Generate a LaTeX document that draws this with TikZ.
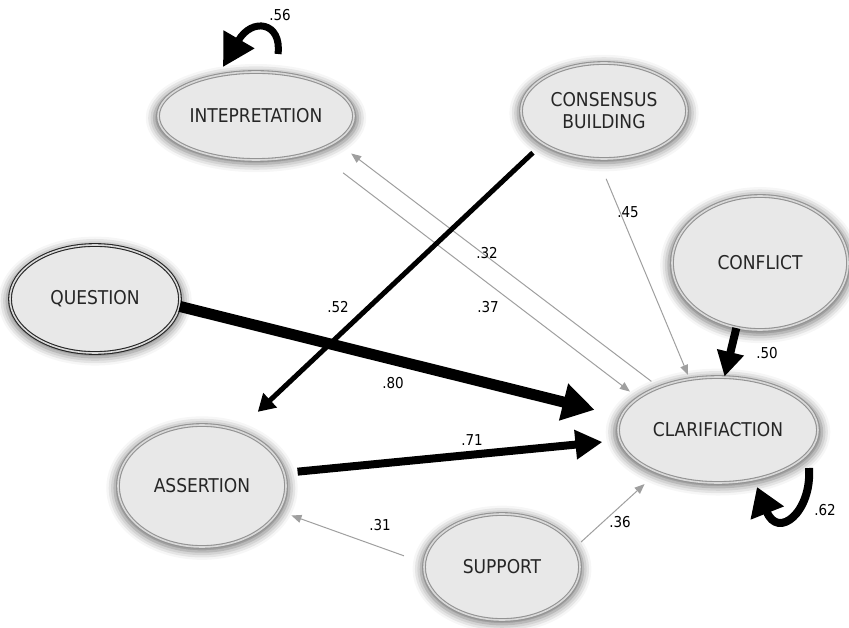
\documentclass[tikz,border=0pt]{standalone}
\usepackage{fontspec}
\setmainfont{DejaVu Sans Condensed}
\usetikzlibrary{shapes.geometric,arrows.meta,shadows.blur,calc}
\begin{document}
\begin{tikzpicture}[x=1pt,y=-1pt,
  var/.style={ellipse, draw=gray!85, line width=1.1pt, double=gray!30, double distance=1.6pt,
    fill=gray!18, inner sep=0pt, align=center, text=black!85,
    font=\fontsize{19}{22}\selectfont,
    blur shadow={shadow xshift=0pt, shadow yshift=-2pt, shadow blur radius=8pt, shadow opacity=55, shadow scale=1.04}},
  lab/.style={font=\fontsize{15}{17}\selectfont, inner sep=0pt},
  gr/.style={draw=gray!75, line width=1pt, -{Triangle[length=10pt,width=8pt]}},
  blk/.style={draw=black}
]
\useasboundingbox (0,0) rectangle (849,628);

% variables
\node[var, minimum width=196pt, minimum height=88pt] (I) at (256,116) {INTEPRETATION};
\node[var, minimum width=166pt, minimum height=96pt] (CB) at (604,111) {CONSENSUS\\BUILDING};
\node[var, draw=black!85, minimum width=170pt, minimum height=108pt] (Q) at (95,299) {QUESTION};
\node[var, minimum width=176pt, minimum height=134pt] (CF) at (760,263) {CONFLICT};
\node[var, minimum width=200pt, minimum height=106pt] (CL) at (718,430) {CLARIFIACTION};
\node[var, minimum width=168pt, minimum height=122pt] (A) at (202,486) {ASSERTION};
\node[var, minimum width=156pt, minimum height=106pt] (S) at (502,567) {SUPPORT};

% thin gray paths
\draw[gr, shorten <=21pt, shorten >=4pt] (CB.-97) -- (CL.119);
\draw[gr, shorten <=35pt, shorten >=10pt] (I.-31) -- (CL.158);
\draw[gr, shorten <=9pt, shorten >=19pt] (CL.144) -- (I.-18);
\draw[gr, shorten <=21pt, shorten >=13pt] (S.177) -- (A.-18);
\draw[gr, shorten <=8pt, shorten >=17pt] (S.15) -- (CL.-145);

% thick black paths
\draw[blk, line width=5pt, -{Triangle[length=17pt,width=19pt]}, shorten <=13pt, shorten >=27pt] (CB.-152) -- (A.57);
\draw[blk, line width=11pt, -{Triangle[length=32pt,width=36pt]}, shorten >=27pt] (Q.-5) -- (CL.172);
\draw[blk, line width=8pt, -{Triangle[length=27pt,width=28pt]}, shorten <=13pt, shorten >=17pt] (A.9.6) -- (CL.-174.5);
\draw[blk, line width=8pt, -{Triangle[length=25pt,width=26pt]}] (CF.-110) -- (CL.83);

% self loops
\draw[blk, line width=7pt, -{Triangle[length=32pt,width=34pt]}]
  ($(I.center)+(22,-62)$) .. controls +(4,-32) and +(29,-50) .. ($(I.center)+(-33,-49)$);
\draw[blk, line width=8pt, -{Triangle[length=28pt,width=34pt]}]
  ($(CL.center)+(91,38)$) .. controls +(3,44) and +(21,53) .. ($(CL.center)+(39,57)$);

% coefficients
\node[lab] (l56) at (280,15) {.56};
\node[lab] (l45) at (628,212) {.45};
\node[lab] (l32) at (487,253) {.32};
\node[lab] (l37) at (488,307) {.37};
\node[lab] (l52) at (338,307) {.52};
\node[lab] (l80) at (393,383) {.80};
\node[lab] (l71) at (472,440) {.71};
\node[lab] (l50) at (767,353) {.50};
\node[lab] (l62) at (825,510) {.62};
\node[lab] (l31) at (380,525) {.31};
\node[lab] (l36) at (620,522) {.36};
\end{tikzpicture}
\end{document}
